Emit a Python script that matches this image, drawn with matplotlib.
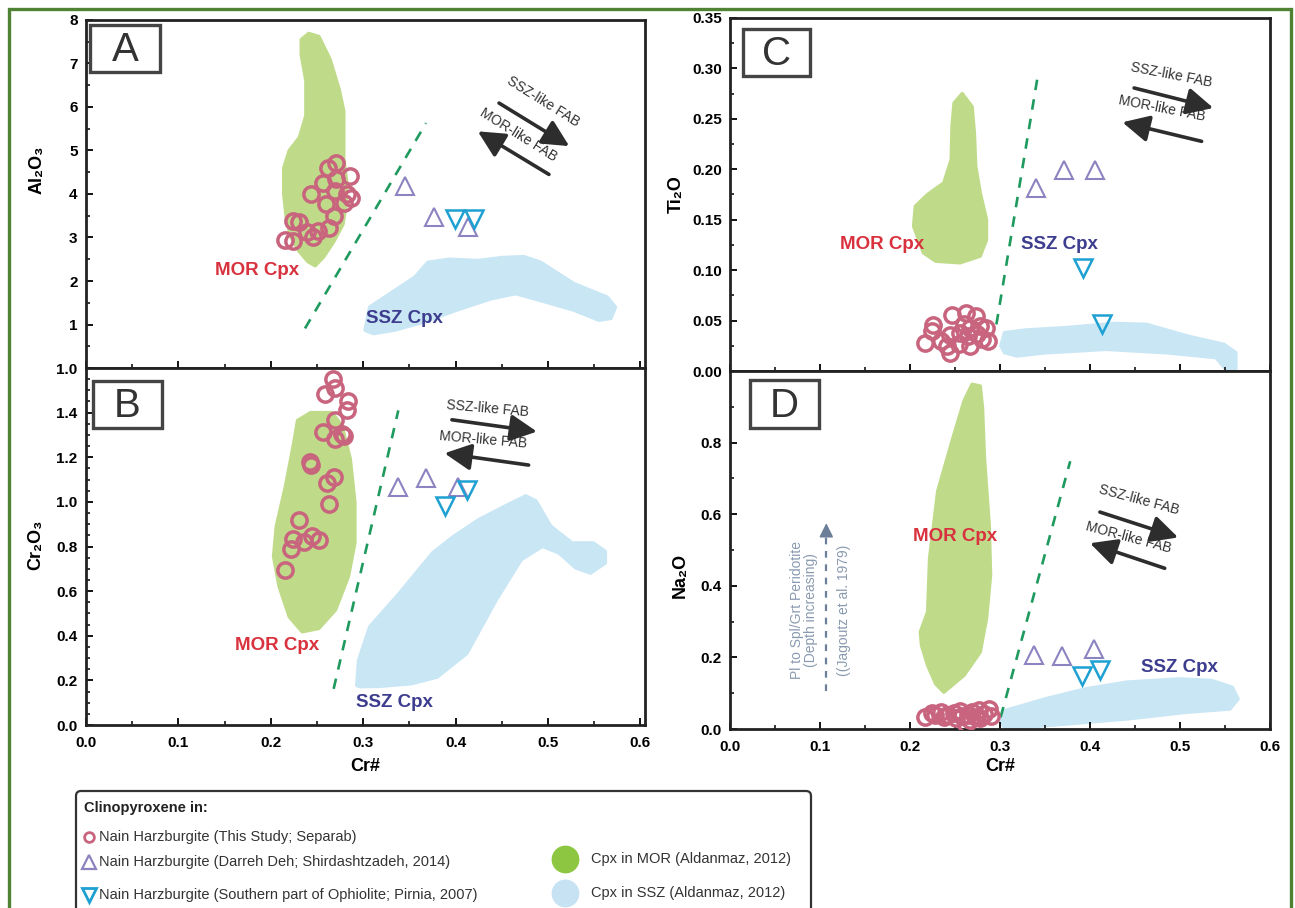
import matplotlib
matplotlib.use('Agg')
import matplotlib.pyplot as plt
from matplotlib.patches import Polygon, Rectangle, FancyBboxPatch
from matplotlib.ticker import MultipleLocator, FixedLocator

plt.rcParams['font.family'] = ['Liberation Sans', 'DejaVu Sans']

# ---- Painel A: Al2O3 vs Cr#
a_circ_cr = [0.271, 0.262, 0.286, 0.257, 0.271, 0.243, 0.270, 0.283, 0.279, 0.287,
             0.260, 0.268, 0.224, 0.230, 0.263, 0.239, 0.251, 0.246, 0.215, 0.224]
a_circ_ox = [4.72, 4.60, 4.41, 4.26, 4.34, 4.00, 4.07, 4.00, 3.80, 3.90,
             3.77, 3.50, 3.37, 3.35, 3.22, 3.12, 3.15, 3.00, 2.95, 2.93]
a_up_cr = [0.345, 0.377, 0.413]
a_up_ox = [4.18, 3.46, 3.23]
a_dn_cr = [0.399, 0.420]
a_dn_ox = [3.43, 3.43]
a_mor_cr = [0.241, 0.252, 0.264, 0.274, 0.279, 0.279, 0.279, 0.282, 0.282, 0.278, 0.268, 0.257, 0.248,
            0.240, 0.230, 0.222, 0.217, 0.214, 0.214, 0.220, 0.231, 0.238, 0.238, 0.233, 0.233]
a_mor_ox = [7.69, 7.62, 7.10, 6.40, 5.90, 5.30, 4.80, 4.30, 3.80, 3.30, 2.90, 2.55, 2.35,
            2.45, 2.70, 3.00, 3.40, 4.00, 4.60, 5.00, 5.30, 5.80, 6.60, 7.20, 7.55]
a_ssz_cr = [0.302, 0.307, 0.334, 0.356, 0.370, 0.393, 0.424, 0.451, 0.474, 0.492, 0.528, 0.564,
            0.573, 0.568, 0.555, 0.528, 0.492, 0.465, 0.438, 0.401, 0.366, 0.334, 0.311]
a_ssz_ox = [0.87, 1.40, 1.78, 2.09, 2.43, 2.50, 2.47, 2.54, 2.56, 2.43, 1.94, 1.63,
            1.40, 1.14, 1.10, 1.33, 1.55, 1.71, 1.59, 1.33, 1.06, 0.87, 0.79]
a_linha_cr = [0.237, 0.368]
a_linha_ox = [0.91, 5.63]

# ---- Painel B: Cr2O3 vs Cr#
b_circ_cr = [0.267, 0.270, 0.259, 0.284, 0.283, 0.269, 0.257, 0.270, 0.277, 0.279, 0.242,
             0.243, 0.268, 0.261, 0.263, 0.230, 0.224, 0.222, 0.236, 0.245, 0.252, 0.215]
b_circ_ox = [1.553, 1.511, 1.485, 1.451, 1.410, 1.365, 1.315, 1.282, 1.305, 1.295, 1.180,
             1.165, 1.110, 1.084, 0.992, 0.918, 0.834, 0.789, 0.819, 0.849, 0.831, 0.696]
b_up_cr = [0.338, 0.368, 0.403]
b_up_ox = [1.065, 1.105, 1.065]
b_dn_cr = [0.389, 0.412]
b_dn_ox = [0.980, 1.054]
b_mor_cr = [0.229, 0.243, 0.266, 0.277, 0.286, 0.291, 0.291, 0.284, 0.270, 0.252, 0.234,
            0.220, 0.209, 0.203, 0.206, 0.216, 0.225]
b_mor_ox = [1.365, 1.400, 1.400, 1.342, 1.192, 0.997, 0.816, 0.666, 0.516, 0.433, 0.418,
            0.485, 0.621, 0.756, 0.891, 1.072, 1.267]
b_ssz_cr = [0.293, 0.295, 0.307, 0.339, 0.375, 0.398, 0.425, 0.453, 0.476, 0.487, 0.503, 0.526, 0.549,
            0.562, 0.562, 0.546, 0.530, 0.512, 0.494, 0.471, 0.444, 0.412, 0.380, 0.352, 0.316, 0.297]
b_ssz_ox = [0.177, 0.290, 0.440, 0.590, 0.771, 0.846, 0.920, 0.980, 1.027, 1.004, 0.891, 0.816, 0.816,
            0.778, 0.726, 0.681, 0.704, 0.771, 0.801, 0.741, 0.561, 0.320, 0.215, 0.185, 0.173, 0.172]
b_linha_cr = [0.268, 0.338]
b_linha_ox = [0.162, 1.41]
b_yticks = [0.0, 0.2, 0.4, 0.6, 0.8, 1.0, 1.2, 1.4, 1.6]
b_ylabels = ['0.0', '0.2', '0.4', '0.6', '0.8', '1.0', '1.2', '1.4', '1.0']

# ---- Painel C: Ti2O vs Cr#
c_circ_cr = [0.247, 0.262, 0.273, 0.226, 0.225, 0.260, 0.267, 0.278, 0.285, 0.245, 0.234,
             0.217, 0.256, 0.265, 0.275, 0.287, 0.241, 0.254, 0.267, 0.245, 0.280]
c_circ_ox = [0.0551, 0.0571, 0.0545, 0.0452, 0.0396, 0.0462, 0.0430, 0.0446, 0.0430, 0.0353, 0.0297,
             0.0281, 0.0380, 0.0347, 0.0363, 0.0297, 0.0248, 0.0264, 0.0248, 0.0182, 0.0314]
c_up_cr = [0.340, 0.371, 0.405]
c_up_ox = [0.1816, 0.1997, 0.1997]
c_dn_cr = [0.392, 0.413]
c_dn_ox = [0.1024, 0.0462]
c_mor_cr = [0.258, 0.269, 0.2715, 0.273, 0.278, 0.285, 0.285, 0.278, 0.2557, 0.2286, 0.215,
            0.204, 0.206, 0.2196, 0.2376, 0.2458, 0.2467, 0.249]
c_mor_ox = [0.275, 0.262, 0.236, 0.203, 0.1766, 0.150, 0.130, 0.1139, 0.1073, 0.1089, 0.1172,
            0.1436, 0.1634, 0.175, 0.1865, 0.2096, 0.2426, 0.2657]
c_ssz_cr = [0.301, 0.305, 0.328, 0.373, 0.427, 0.463, 0.508, 0.549, 0.562, 0.562, 0.551,
            0.540, 0.486, 0.418, 0.350, 0.319, 0.305]
c_ssz_ox = [0.0248, 0.0380, 0.0406, 0.0430, 0.0472, 0.0462, 0.0347, 0.0264, 0.0182, 0.0017, 0.0017,
            0.0133, 0.0180, 0.0215, 0.0180, 0.0149, 0.0182]
c_linha_cr = [0.296, 0.342]
c_linha_ox = [0.0462, 0.2928]

# ---- Painel D: Na2O vs Cr#
d_circ_cr = [0.217, 0.225, 0.234, 0.241, 0.249, 0.256, 0.264, 0.269, 0.277, 0.282,
             0.288, 0.290, 0.267, 0.238, 0.251, 0.278, 0.262, 0.228, 0.273, 0.258]
d_circ_ox = [0.035, 0.045, 0.048, 0.040, 0.046, 0.050, 0.040, 0.047, 0.052, 0.042,
             0.055, 0.037, 0.026, 0.033, 0.030, 0.030, 0.014, 0.038, 0.035, 0.036]
d_up_cr = [0.338, 0.369, 0.404]
d_up_ox = [0.206, 0.204, 0.224]
d_dn_cr = [0.391, 0.411]
d_dn_ox = [0.148, 0.164]
d_mor_cr = [0.269, 0.278, 0.2805, 0.2827, 0.288, 0.2895, 0.285, 0.278, 0.260, 0.2376,
            0.2286, 0.2196, 0.2128, 0.2115, 0.2196, 0.2218, 0.2308, 0.2467, 0.260]
d_mor_ox = [0.963, 0.958, 0.898, 0.757, 0.570, 0.430, 0.309, 0.215, 0.150, 0.103,
            0.126, 0.178, 0.234, 0.271, 0.327, 0.477, 0.664, 0.804, 0.916]
d_ssz_cr = [0.3007, 0.305, 0.350, 0.395, 0.4405, 0.499, 0.535, 0.558, 0.5645, 0.5555,
            0.508, 0.4405, 0.373, 0.328, 0.305]
d_ssz_ox = [0.019, 0.051, 0.084, 0.112, 0.131, 0.140, 0.1355, 0.117, 0.084, 0.056,
            0.047, 0.028, 0.014, 0.005, 0.005]
d_linha_cr = [0.3007, 0.378]
d_linha_ox = [0.033, 0.748]

legenda_simbolos = ['Nain Harzburgite (This Study; Separab)',
                    'Nain Harzburgite (Darreh Deh; Shirdashtzadeh, 2014)',
                    'Nain Harzburgite (Southern part of Ophiolite; Pirnia, 2007)']
legenda_campos = ['Cpx in MOR (Aldanmaz, 2012)', 'Cpx in SSZ (Aldanmaz, 2012)']

COR_MOR = '#bfdb8a'
COR_SSZ = '#c9e6f4'
COR_CIRC = '#c8647d'
COR_UP = '#8c84c0'
COR_DN = '#1ea0d2'
COR_LINHA = '#1f9a5e'
COR_SETA = '#2d2d2d'


def desenha_dados (ax, mor, ssz, circ, up, dn, linha):
    ax.add_patch(Polygon(list(zip(*mor)), closed=True, fc=COR_MOR, ec=COR_MOR, lw=2.5,
                         joinstyle='round', zorder=1))
    ax.add_patch(Polygon(list(zip(*ssz)), closed=True, fc=COR_SSZ, ec=COR_SSZ, lw=2.5,
                         joinstyle='round', zorder=1))
    ax.plot(linha[0], linha[1], ls=(0, (4, 3.5)), color=COR_LINHA, lw=1.9, zorder=2)
    ax.plot(circ[0], circ[1], 'o', ms=11, mfc='none', mec=COR_CIRC, mew=2.5, zorder=3)
    ax.plot(up[0], up[1], '^', ms=13, mfc='none', mec=COR_UP, mew=1.5, zorder=3)
    ax.plot(dn[0], dn[1], 'v', ms=13, mfc='none', mec=COR_DN, mew=1.8, zorder=3)


def setas_fab (ax, ssz_ini, ssz_fim, mor_ini, mor_fim, ssz_txt, mor_txt, ang):
    props = dict(arrowstyle='-|>,head_length=0.9,head_width=0.45', lw=2.6, color=COR_SETA,
                 shrinkA=0, shrinkB=0, mutation_scale=18)
    ax.annotate('', xy=ssz_fim, xytext=ssz_ini, arrowprops=props, zorder=4)
    ax.annotate('', xy=mor_fim, xytext=mor_ini, arrowprops=props, zorder=4)
    ax.text(ssz_txt[0], ssz_txt[1], 'SSZ-like FAB', rotation=ang, rotation_mode='anchor',
            ha='center', va='center', fontsize=10, color='#333333')
    ax.text(mor_txt[0], mor_txt[1], 'MOR-like FAB', rotation=ang, rotation_mode='anchor',
            ha='center', va='center', fontsize=10, color='#333333')


def caixa_letra (ax, letra, x0, y0, w, h):
    ax.add_patch(Rectangle((x0, y0), w, h, transform=ax.transAxes, fc='white', ec='#444444',
                           lw=2.4, zorder=5))
    ax.text(x0 + w / 2, y0 + h / 2 - 0.005, letra, transform=ax.transAxes, ha='center', va='center',
            fontsize=29, color='#333333', zorder=6)


def estilo_eixo (ax):
    for s in ax.spines.values():
        s.set_linewidth(2)
        s.set_color('#222222')
    ax.tick_params(which='major', direction='in', length=5, width=1.3, labelsize=11)
    ax.tick_params(axis='x', which='major', pad=8)
    ax.tick_params(axis='y', which='major', pad=6)
    ax.tick_params(which='minor', direction='in', length=3, width=1.1)
    for lab in ax.get_xticklabels() + ax.get_yticklabels():
        lab.set_fontweight('bold')


fig = plt.figure(figsize=(12.95, 9.08), dpi=100)

ax_a = fig.add_axes([0.0664, 0.5947, 0.4317, 0.3833])
ax_b = fig.add_axes([0.0664, 0.2015, 0.4317, 0.3932])
ax_c = fig.add_axes([0.5637, 0.5914, 0.4170, 0.3888])
ax_d = fig.add_axes([0.5637, 0.1971, 0.4170, 0.3943])

# A
desenha_dados(ax_a, (a_mor_cr, a_mor_ox), (a_ssz_cr, a_ssz_ox), (a_circ_cr, a_circ_ox),
              (a_up_cr, a_up_ox), (a_dn_cr, a_dn_ox), (a_linha_cr, a_linha_ox))
ax_a.set_xlim(0, 0.605)
ax_a.set_ylim(0, 8)
ax_a.xaxis.set_major_locator(MultipleLocator(0.1))
ax_a.xaxis.set_minor_locator(MultipleLocator(0.05))
ax_a.yaxis.set_major_locator(FixedLocator([1, 2, 3, 4, 5, 6, 7, 8]))
ax_a.yaxis.set_minor_locator(MultipleLocator(0.5))
ax_a.tick_params(labelbottom=False)
ax_a.set_ylabel('Al₂O₃', fontsize=13, fontweight='bold')
ax_a.yaxis.set_label_coords(-0.073, 0.57)
ax_a.text(0.185, 2.24, 'MOR Cpx', color='#d9323f', fontsize=13.5, fontweight='bold', ha='center', va='center')
ax_a.text(0.345, 1.14, 'SSZ Cpx', color='#3d3d8f', fontsize=13.5, fontweight='bold', ha='center', va='center')
setas_fab(ax_a, (0.447, 6.09), (0.523, 5.10), (0.501, 4.45), (0.424, 5.44),
          (0.495, 6.12), (0.468, 5.36), -32)
caixa_letra(ax_a, 'A', 0.008, 0.851, 0.124, 0.135)
estilo_eixo(ax_a)

# B
desenha_dados(ax_b, (b_mor_cr, b_mor_ox), (b_ssz_cr, b_ssz_ox), (b_circ_cr, b_circ_ox),
              (b_up_cr, b_up_ox), (b_dn_cr, b_dn_ox), (b_linha_cr, b_linha_ox))
ax_b.set_xlim(0, 0.605)
ax_b.set_ylim(0, 1.6)
ax_b.xaxis.set_major_locator(MultipleLocator(0.1))
ax_b.xaxis.set_minor_locator(MultipleLocator(0.05))
ax_b.set_yticks(b_yticks)
ax_b.set_yticklabels(b_ylabels)
ax_b.yaxis.set_minor_locator(MultipleLocator(0.05))
ax_b.set_ylabel('Cr₂O₃', fontsize=13, fontweight='bold')
ax_b.yaxis.set_label_coords(-0.075, 0.504)
ax_b.set_xlabel('Cr#', fontsize=13, fontweight='bold')
ax_b.xaxis.set_label_coords(0.5, -0.092)
ax_b.text(0.207, 0.358, 'MOR Cpx', color='#d9323f', fontsize=13.5, fontweight='bold', ha='center', va='center')
ax_b.text(0.334, 0.102, 'SSZ Cpx', color='#3d3d8f', fontsize=13.5, fontweight='bold', ha='center', va='center')
setas_fab(ax_b, (0.396, 1.368), (0.488, 1.315), (0.479, 1.165), (0.388, 1.218),
          (0.435, 1.420), (0.430, 1.280), -5)
caixa_letra(ax_b, 'B', 0.0125, 0.831, 0.1234, 0.133)
estilo_eixo(ax_b)

# C
desenha_dados(ax_c, (c_mor_cr, c_mor_ox), (c_ssz_cr, c_ssz_ox), (c_circ_cr, c_circ_ox),
              (c_up_cr, c_up_ox), (c_dn_cr, c_dn_ox), (c_linha_cr, c_linha_ox))
ax_c.set_xlim(0, 0.6)
ax_c.set_ylim(0, 0.35)
ax_c.xaxis.set_major_locator(MultipleLocator(0.1))
ax_c.xaxis.set_minor_locator(MultipleLocator(0.05))
ax_c.yaxis.set_major_locator(MultipleLocator(0.05))
ax_c.yaxis.set_minor_locator(MultipleLocator(0.025))
ax_c.yaxis.set_major_formatter('{x:.2f}')
ax_c.tick_params(labelbottom=False)
ax_c.set_ylabel('Ti₂O', fontsize=13, fontweight='bold')
ax_c.yaxis.set_label_coords(-0.083, 0.5)
ax_c.text(0.169, 0.1254, 'MOR Cpx', color='#d9323f', fontsize=13.5, fontweight='bold', ha='center', va='center')
ax_c.text(0.366, 0.1254, 'SSZ Cpx', color='#3d3d8f', fontsize=13.5, fontweight='bold', ha='center', va='center')
setas_fab(ax_c, (0.449, 0.2806), (0.537, 0.2608), (0.524, 0.2277), (0.436, 0.2466),
          (0.490, 0.2935), (0.480, 0.2605), -11)
caixa_letra(ax_c, 'C', 0.024, 0.836, 0.125, 0.132)
estilo_eixo(ax_c)

# D
desenha_dados(ax_d, (d_mor_cr, d_mor_ox), (d_ssz_cr, d_ssz_ox), (d_circ_cr, d_circ_ox),
              (d_up_cr, d_up_ox), (d_dn_cr, d_dn_ox), (d_linha_cr, d_linha_ox))
ax_d.set_xlim(0, 0.6)
ax_d.set_ylim(0, 1.0)
ax_d.xaxis.set_major_locator(MultipleLocator(0.1))
ax_d.xaxis.set_minor_locator(MultipleLocator(0.05))
ax_d.yaxis.set_major_locator(FixedLocator([0.0, 0.2, 0.4, 0.6, 0.8]))
ax_d.yaxis.set_minor_locator(MultipleLocator(0.1))
ax_d.yaxis.set_major_formatter('{x:.1f}')
ax_d.set_ylabel('Na₂O', fontsize=13, fontweight='bold')
ax_d.yaxis.set_label_coords(-0.077, 0.43)
ax_d.set_xlabel('Cr#', fontsize=13, fontweight='bold')
ax_d.xaxis.set_label_coords(0.5, -0.081)
ax_d.text(0.250, 0.538, 'MOR Cpx', color='#d9323f', fontsize=13.5, fontweight='bold', ha='center', va='center')
ax_d.text(0.499, 0.173, 'SSZ Cpx', color='#3d3d8f', fontsize=13.5, fontweight='bold', ha='center', va='center')
setas_fab(ax_d, (0.411, 0.606), (0.498, 0.535), (0.483, 0.449), (0.400, 0.519),
          (0.454, 0.640), (0.443, 0.536), -15)
ax_d.plot([0.107, 0.107], [0.107, 0.55], ls=(0, (3, 3)), color='#6b7f99', lw=1.6)
ax_d.annotate('', xy=(0.107, 0.575), xytext=(0.107, 0.54),
              arrowprops=dict(arrowstyle='-|>,head_length=0.6,head_width=0.3', color='#6b7f99', lw=1.2,
                              shrinkA=0, shrinkB=0, mutation_scale=14))
ax_d.text(0.082, 0.332, 'Pl to Spl/Grt Peridotite\n(Depth increasing)', rotation=90, ha='center',
          va='center', fontsize=10, color='#8a9ab0', linespacing=1.0)
ax_d.text(0.127, 0.332, '((Jagoutz et al. 1979)', rotation=90, ha='center', va='center',
          fontsize=10, color='#8a9ab0')
caixa_letra(ax_d, 'D', 0.037, 0.840, 0.127, 0.135)
estilo_eixo(ax_d)

# legenda e moldura, em pixels
lax = fig.add_axes([0, 0, 1, 1], zorder=-1)
lax.set_xlim(0, 1295)
lax.set_ylim(908, 0)
lax.axis('off')
lax.add_patch(FancyBboxPatch((76, 791), 735, 140, boxstyle='round,pad=0,rounding_size=5',
                             fc='white', ec='#333333', lw=1.6))
lax.text(84, 808, 'Clinopyroxene in:', fontsize=10.5, fontweight='bold', va='center', color='#222222')
y_linhas = [837, 862, 895]
for txt, y, m, c in zip(legenda_simbolos, y_linhas, ['o', '^', 'v'], [COR_CIRC, COR_UP, COR_DN]):
    lax.plot([89], [y], m, ms=7 if m == 'o' else 10, mfc='none', mec=c, mew=2.0 if m != '^' else 1.6)
    lax.text(99, y, txt, fontsize=10.5, va='center', color='#333333')
for txt, y, c in zip(legenda_campos, [859, 893], ['#8dc641', '#c6e2f3']):
    lax.plot([565], [y], 'o', ms=20, mfc=c, mec='none')
    lax.text(591, y, txt, fontsize=10.5, va='center', color='#333333')

fig.patches.append(Rectangle((9 / 1295, -0.05), 1282 / 1295, 1 - 9 / 908 + 0.05, transform=fig.transFigure,
                             fill=False, ec='#4f8232', lw=2.4, zorder=10))

fig.savefig('out.png', dpi=100)
